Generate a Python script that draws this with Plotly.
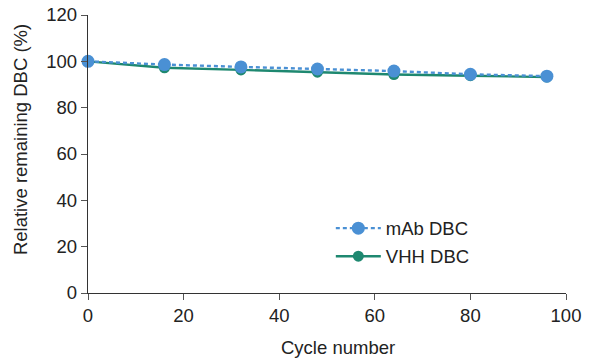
import plotly.graph_objects as go

cycles = [0, 16, 32, 48, 64, 80, 96]
mab_dbc = [100, 98.6, 97.6, 96.7, 95.8, 94.4, 93.6]
vhh_dbc = [100, 97.2, 96.3, 95.3, 94.3, 93.8, 93.2]
x_ticks = [0, 20, 40, 60, 80, 100]
y_ticks = [0, 20, 40, 60, 80, 100, 120]

blue = "#4A90D4"
green = "#1E8870"
FONT = "Liberation Sans, Arial, sans-serif"
FS = 18.5

fig = go.Figure()
fig.add_trace(go.Scatter(
    x=cycles, y=vhh_dbc, name="VHH DBC", mode="lines+markers",
    line=dict(color=green, width=2.4),
    marker=dict(color=green, size=11),
    legendrank=2, legendgroup="b",
    cliponaxis=False,
))
fig.add_trace(go.Scatter(
    x=cycles, y=mab_dbc, name="mAb DBC", mode="lines+markers",
    line=dict(color=blue, width=2.4, dash="4px,3px"),
    marker=dict(color=blue, size=13),
    legendrank=1, legendgroup="a",
    cliponaxis=False,
))

axis_common = dict(
    showline=True, linecolor="#333333", linewidth=1.3,
    ticks="outside", ticklen=6, tickcolor="#555555", tickwidth=1.3,
    showgrid=False, zeroline=False, automargin=False,
    tickfont=dict(size=FS, color="#222222", family=FONT),
)

fig.update_layout(
    width=608, height=361,
    margin=dict(l=88, r=42, t=15, b=68),
    plot_bgcolor="white", paper_bgcolor="white",
    font=dict(family=FONT, size=FS, color="#222222"),
    xaxis=dict(range=[0, 100], tickvals=x_ticks, **axis_common),
    yaxis=dict(range=[0, 120], tickvals=y_ticks, **axis_common),
    legend=dict(x=0.508, y=0.300, xanchor="left", yanchor="top",
                font=dict(size=FS, family=FONT, color="#222222"),
                bgcolor="rgba(0,0,0,0)", itemwidth=45,
                tracegroupgap=1),
    showlegend=True,
    annotations=[
        dict(text="Cycle number", xref="paper", yref="paper", x=0.524, y=0,
             yshift=-54, xanchor="center", yanchor="middle", showarrow=False,
             font=dict(size=FS, family=FONT, color="#222222")),
        dict(text="Relative remaining DBC (%)", xref="paper", yref="paper",
             x=0, xshift=-68, y=0.55, textangle=-90, xanchor="center",
             yanchor="middle", showarrow=False,
             font=dict(size=FS, family=FONT, color="#222222")),
    ],
)

fig.write_html(
    "out.html",
    config={"displayModeBar": False},
    post_script="document.body.style.margin='0px';document.body.style.overflow='hidden';",
)
